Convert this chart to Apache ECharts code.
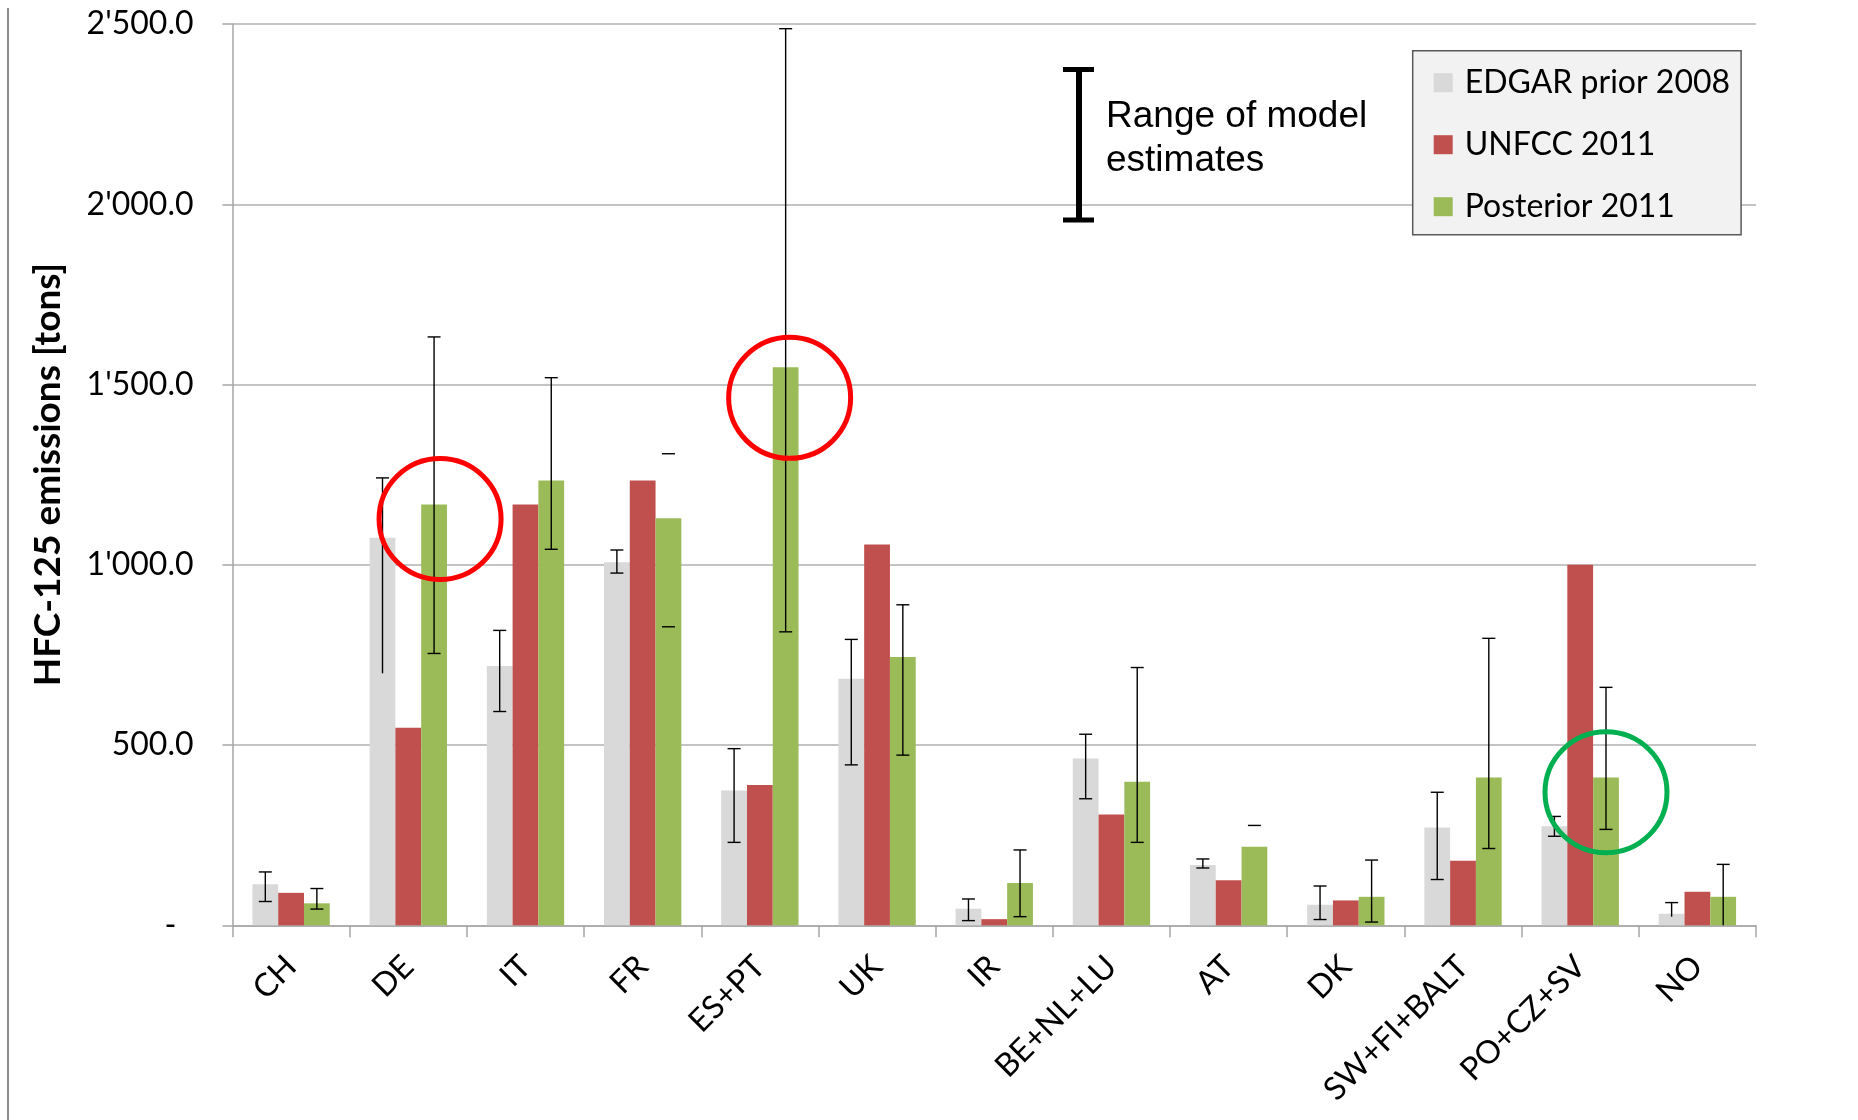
<!DOCTYPE html>
<html>
<head>
<meta charset="utf-8">
<script src="https://cdn.jsdelivr.net/npm/echarts@6/dist/echarts.min.js"></script>
<style>
  html, body { margin: 0; padding: 0; background: #ffffff; }
  #chart { width: 1858px; height: 1120px; }
</style>
</head>
<body>
<div id="chart"></div>
<script>
// HFC-125 emissions by country group [tons]
const categories = ['CH', 'DE', 'IT', 'FR', 'ES+PT', 'UK', 'IR', 'BE+NL+LU', 'AT', 'DK', 'SW+FI+BALT', 'PO+CZ+SV', 'NO'];

const edgarPrior2008 = [114, 1075, 719, 1007, 374, 684, 46, 463, 167, 57, 271, 275, 32];
const unfcc2011      = [90, 548, 1167, 1234, 389, 1056, 17, 307, 125, 69, 179, 1000, 93];
const posterior2011  = [61, 1167, 1234, 1129, 1548, 744, 117, 398, 218, 79, 410, 410, 79];

// range of model estimates
const edgarLow      = [66, 699, 593, 977, 230, 445, 13, 351, 159, 16, 127, 247, 24];
const edgarHigh     = [148, 1241, 818, 1041, 490, 793, 73, 530, 184, 109, 369, 302, 63];
const posteriorLow  = [45, 754, 1043, 828, 814, 472, 24, 230, null, 9, 213, 266, 0];
const posteriorHigh = [102, 1632, 1519, 1308, 2487, 889, 209, 715, 277, 181, 796, 660, 169];

// value axis ticks
const yTicks = [0, 500, 1000, 1500, 2000, 2500];

// how each range is drawn: 'full' = whisker + both caps, 'top' = whisker + top cap, 'caps' = caps only
const edgarErrForm     = ['full', 'top', 'full', 'full', 'full', 'full', 'full', 'full', 'full', 'full', 'full', 'full', 'top'];
const posteriorErrForm = ['full', 'full', 'full', 'caps', 'full', 'full', 'full', 'full', 'caps', 'full', 'full', 'full', 'top'];

const BAR_CAT_GAP = 0.34;
const COLORS = { edgar: '#d9d9d9', unfcc: '#c0504d', posterior: '#9bbb59' };

function fmtTick(v) {
  if (v === 0) return '{d|-}';
  const s = v.toFixed(1);
  const parts = s.split('.');
  const intPart = parts[0].replace(/\B(?=(\d{3})+(?!\d))/g, "'");
  return intPart + '.' + parts[1];
}

function errorSeries(name, low, high, forms, slot) {
  return {
    type: 'custom',
    name: name,
    z: 5,
    silent: true,
    encode: { x: 0, y: [1, 2] },
    data: categories.map(function (c, i) {
      return [i, low[i] == null ? '-' : low[i], high[i]];
    }),
    renderItem: function (params, api) {
      const i = api.value(0);
      const lo = api.value(1);
      const hi = api.value(2);
      const catW = api.size([1, 0])[0];
      const barW = catW * (1 - BAR_CAT_GAP) / 3;
      const x = api.coord([i, 0])[0] + slot * barW;
      const form = forms[i];
      const half = 6.5;
      const style = { stroke: '#000000', lineWidth: 1.4 };
      const yHi = api.coord([i, hi])[1];
      const hasLo = !isNaN(lo);
      const yLo = hasLo ? api.coord([i, lo])[1] : yHi;
      const children = [];
      if (form !== 'caps') {
        children.push({ type: 'line', shape: { x1: x, y1: yHi, x2: x, y2: yLo }, style: style });
      }
      children.push({ type: 'line', shape: { x1: x - half, y1: yHi, x2: x + half, y2: yHi }, style: style });
      if (hasLo && form !== 'top') {
        children.push({ type: 'line', shape: { x1: x - half, y1: yLo, x2: x + half, y2: yLo }, style: style });
      }
      return { type: 'group', children: children };
    }
  };
}

const chart = echarts.init(document.getElementById('chart'), null, { renderer: 'canvas' });

const option = {
  animation: false,
  backgroundColor: '#ffffff',
  grid: { left: 232.5, right: 102, top: 24, bottom: 194.7, containLabel: false, outerBoundsMode: 'none' },
  legend: {
    orient: 'vertical',
    left: 1412.7,
    top: 50.7,
    data: ['EDGAR prior 2008', 'UNFCC 2011', 'Posterior 2011'],
    icon: 'rect',
    itemWidth: 19,
    itemHeight: 19,
    itemGap: 30,
    padding: [16, 11, 12, 21],
    backgroundColor: '#f2f2f2',
    borderColor: '#595959',
    borderWidth: 1.5,
    borderRadius: 0,
    selectedMode: false,
    textStyle: { fontFamily: 'Lato', fontSize: 32, color: '#000000', lineHeight: 19, padding: [0, 0, 0, 7] }
  },
  xAxis: {
    type: 'category',
    data: categories,
    axisLine: { show: true, lineStyle: { color: '#a6a6a6', width: 1.5 } },
    axisTick: { show: true, length: 12, lineStyle: { color: '#a6a6a6', width: 1.5 } },
    axisLabel: {
      rotate: 45,
      margin: 36,
      interval: 0,
      fontFamily: 'Lato',
      fontSize: 32,
      color: '#000000'
    },
    splitLine: { show: false }
  },
  yAxis: {
    type: 'value',
    min: yTicks[0],
    max: yTicks[yTicks.length - 1],
    interval: yTicks[1] - yTicks[0],
    name: 'HFC-125 emissions [tons]',
    nameLocation: 'middle',
    nameGap: 166,
    nameTextStyle: { fontFamily: 'Lato', fontWeight: 'bold', fontSize: 37, color: '#000000' },
    axisLine: { show: true, lineStyle: { color: '#a6a6a6', width: 1.5 } },
    axisTick: { show: true, length: 10, lineStyle: { color: '#a6a6a6', width: 1.5 } },
    axisLabel: {
      margin: 39,
      fontFamily: 'Lato',
      fontSize: 32,
      color: '#000000',
      formatter: fmtTick,
      rich: { d: { fontFamily: 'Lato', fontSize: 32, color: '#000000', padding: [0, 17, 0, 0] } }
    },
    splitLine: { show: true, lineStyle: { color: '#b0b0b0', width: 1.5 } }
  },
  series: [
    { type: 'bar', name: 'EDGAR prior 2008', data: edgarPrior2008, itemStyle: { color: COLORS.edgar }, barGap: '0%', barCategoryGap: (BAR_CAT_GAP * 100) + '%' },
    { type: 'bar', name: 'UNFCC 2011', data: unfcc2011, itemStyle: { color: COLORS.unfcc }, barGap: '0%', barCategoryGap: (BAR_CAT_GAP * 100) + '%' },
    { type: 'bar', name: 'Posterior 2011', data: posterior2011, itemStyle: { color: COLORS.posterior }, barGap: '0%', barCategoryGap: (BAR_CAT_GAP * 100) + '%' },
    errorSeries('EDGAR range', edgarLow, edgarHigh, edgarErrForm, -1),
    errorSeries('Posterior range', posteriorLow, posteriorHigh, posteriorErrForm, 1)
  ]
};

chart.setOption(option);

// Highlight rings around selected posterior estimates
const rings = [
  { cat: 'DE', value: 1127, dx: 6, color: '#ff0000' },
  { cat: 'ES+PT', value: 1463, dx: 4, color: '#ff0000' },
  { cat: 'PO+CZ+SV', value: 369, dx: 0, color: '#00b050' }
];

function buildGraphics() {
  const catW = chart.convertToPixel({ xAxisIndex: 0 }, categories[1]) - chart.convertToPixel({ xAxisIndex: 0 }, categories[0]);
  const barW = catW * (1 - BAR_CAT_GAP) / 3;
  const els = [];
  rings.forEach(function (r) {
    const p = chart.convertToPixel({ gridIndex: 0 }, [r.cat, r.value]);
    els.push({
      type: 'ellipse',
      silent: true,
      z: 20,
      shape: { cx: p[0] + barW + r.dx, cy: p[1], rx: 61, ry: 60.5 },
      style: { fill: null, stroke: r.color, lineWidth: 5 }
    });
  });
  // frame line on the left edge
  els.push({ type: 'line', silent: true, shape: { x1: 8, y1: 8, x2: 8, y2: 1120 }, style: { stroke: '#8c8c8c', lineWidth: 2 } });
  // key for the whiskers
  els.push({
    type: 'group', silent: true, z: 20,
    children: [
      { type: 'line', shape: { x1: 1079, y1: 69, x2: 1079, y2: 220 }, style: { stroke: '#000', lineWidth: 6 } },
      { type: 'line', shape: { x1: 1063, y1: 69.5, x2: 1094, y2: 69.5 }, style: { stroke: '#000', lineWidth: 5 } },
      { type: 'line', shape: { x1: 1063, y1: 220, x2: 1094, y2: 220 }, style: { stroke: '#000', lineWidth: 5 } },
      { type: 'text', x: 1106, y: 117, style: { text: 'Range of model', font: '37px "Liberation Sans", Arial, sans-serif', fill: '#000', textVerticalAlign: 'middle', verticalAlign: 'middle' } },
      { type: 'text', x: 1106, y: 161, style: { text: 'estimates', font: '37px "Liberation Sans", Arial, sans-serif', fill: '#000', textVerticalAlign: 'middle', verticalAlign: 'middle' } }
    ]
  });
  chart.setOption({ graphic: { elements: els } });
}
buildGraphics();
</script>
</body>
</html>
